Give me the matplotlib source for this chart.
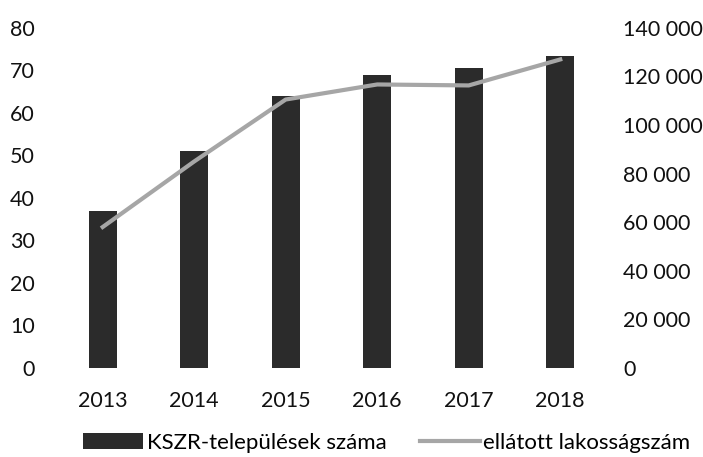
import matplotlib
matplotlib.use("Agg")
import matplotlib.pyplot as plt
from matplotlib.ticker import FuncFormatter

# data
years = ["2013", "2014", "2015", "2016", "2017", "2018"]
telepulesek = [37, 51, 64, 69, 70.5, 73.5]
lakossag = [58000, 85000, 110500, 116700, 116300, 127000]

plt.rcParams['font.family'] = ['Lato', 'DejaVu Sans']
plt.rcParams['font.size'] = 15.5

fig = plt.figure(figsize=(7.03, 4.57), dpi=100)
ax = fig.add_axes([0.081, 0.195, 0.781, 0.744])
ax2 = ax.twinx()

x = range(len(years))
bars = ax.bar(x, telepulesek, width=0.31, color='#2b2b2b', label='KSZR-települések száma', zorder=2)
line, = ax2.plot(x, lakossag, color='#a6a6a6', lw=3, label='ellátott lakosságszám', zorder=3)

ax.set_xlim(-0.5, len(years) - 0.5)
ax.set_ylim(0, 80)
ax.set_yticks(range(0, 81, 10))
ax2.set_ylim(0, 140000)
ax2.set_yticks(range(0, 140001, 20000))
ax2.yaxis.set_major_formatter(FuncFormatter(lambda v, p: f"{int(v):,}".replace(",", " ")))

ax.set_xticks(list(x))
ax.set_xticklabels(years)

# line drawn on top of the bars, as in reference
ax.set_zorder(1)
ax2.set_zorder(2)
ax2.patch.set_visible(False)

for a in (ax, ax2):
    for s in a.spines.values():
        s.set_visible(False)
ax.tick_params(axis='both', length=0, colors='#111111')
ax.tick_params(axis='y', pad=16)
ax.tick_params(axis='x', pad=17)
ax2.tick_params(axis='y', length=0, pad=12.5, colors='#111111')

fig.legend([bars, line], ['KSZR-települések száma', 'ellátott lakosságszám'],
           loc='lower center', bbox_to_anchor=(0.55, -0.035), ncol=2, frameon=False,
           handlelength=2.7, handletextpad=0.15, columnspacing=1.5, fontsize=16)

fig.savefig("out.png", dpi=100)
